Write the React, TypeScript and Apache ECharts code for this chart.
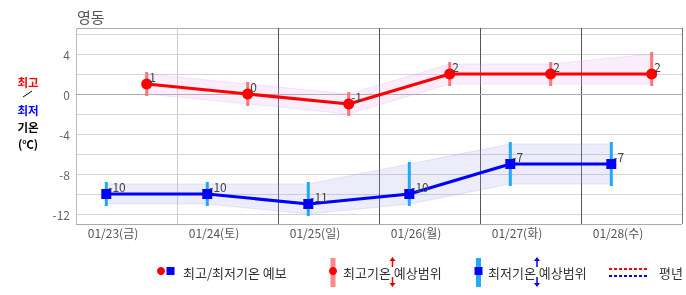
import React, { useEffect, useRef } from 'react';
import * as echarts from 'echarts';

const title = '영동';
const days = ['01/23(금)', '01/24(토)', '01/25(일)', '01/26(월)', '01/27(화)', '01/28(수)'];
const maxTemps = [1, 0, -1, 2, 2, 2];
const maxLow = [0, -1, -2, 1, 1, 1];
const maxHigh = [2, 1, 0, 3, 3, 4];
const minTemps = [-10, -10, -11, -10, -7, -7];
const minLow = [-11, -11, -12, -11, -9, -9];
const minHigh = [-9, -9, -9, -7, -5, -5];
// time of day (fraction of the day) at which min / max are plotted
const minTimeOfDay = 0.3;
const maxTimeOfDay = 0.7;
const yMin = -13;
const yMax = 6.6;
const yLabelTicks = [-12, -8, -4, 0, 4];

const FONT = "'Noto Sans CJK KR', 'Noto Sans', sans-serif";

const bandRender = (lows: number[], highs: number[], offset: number, fill: string, stroke: string) =>
  (params: any, api: any) => {
    if (params.dataIndex !== 0) return { type: 'group', children: [] };
    const top = highs.map((h, i) => api.coord([i + offset, h]));
    const bottom = lows.map((l, i) => api.coord([i + offset, l])).reverse();
    return {
      type: 'polygon',
      shape: { points: top.concat(bottom) },
      style: { fill, stroke, lineWidth: 1 },
    };
  };

const barRender = (color: string) => (params: any, api: any) => {
  const x = api.value(0);
  const p1 = api.coord([x, api.value(2)]);
  const p2 = api.coord([x, api.value(1)]);
  return {
    type: 'rect',
    shape: { x: p1[0] - 1.5, y: p1[1] - 2, width: 3, height: p2[1] - p1[1] + 4 },
    style: { fill: color },
  };
};

function arrow(x: number, yTip: number, dir: number, color: string) {
  // dir = -1 up, +1 down
  const shaftEnd = yTip - dir * 10;
  return [
    { type: 'line', shape: { x1: x, y1: shaftEnd, x2: x, y2: yTip - dir * 3 }, style: { stroke: color, lineWidth: 1.5 } },
    {
      type: 'polygon',
      shape: { points: [[x, yTip], [x - 3, yTip - dir * 4], [x + 3, yTip - dir * 4]] },
      style: { fill: color },
    },
  ];
}

function text(x: number, y: number, t: string, fill: string, font: string, align = 'left') {
  return { type: 'text', x, y, style: { text: t, fill, font, align, verticalAlign: 'middle' } };
}

export default function App() {
  const ref = useRef<HTMLDivElement>(null);
  useEffect(() => {
    const chart = echarts.init(ref.current!, null, { renderer: 'svg' });
    const ySplitColors = ['#aaa'];
    for (let i = 0; i < 10; i++) ySplitColors.push('#d4d4d4');
    ySplitColors.push('#aaa');
    const legendFont = `13px ${FONT}`;
    const sideFont = `bold 11.5px ${FONT}`;
    const option: any = {
      animation: false,
      textStyle: { fontFamily: FONT },
      grid: { left: 76, right: 4, top: 28, bottom: 71 },
      xAxis: {
        type: 'value',
        min: 0,
        max: days.length,
        interval: 1,
        axisLine: { show: true, lineStyle: { color: '#aaa' } },
        axisTick: { show: false },
        splitLine: {
          show: true,
          lineStyle: { color: ['#bbb', '#ccc', '#555', '#555', '#555', '#555', '#777'], width: 1 },
        },
        axisLabel: {
          formatter: (v: number) => days[Math.round(v)] ?? '',
          color: '#555',
          fontSize: 12,
          fontFamily: FONT,
          padding: [0, 0, 0, 74],
          margin: 2,
        },
      },
      yAxis: {
        type: 'value',
        min: yMin,
        max: yMax,
        splitNumber: 10,
        axisLine: { show: false },
        axisTick: { show: false },
        splitLine: { show: true, lineStyle: { color: ySplitColors } },
        axisLabel: {
          formatter: (v: number) => (yLabelTicks.some((t) => Math.abs(t - v) < 1e-6) ? String(Math.round(v)) : ''),
          color: '#666',
          fontSize: 12,
          fontFamily: FONT,
          margin: 6,
        },
      },
      series: [
        {
          type: 'custom',
          renderItem: bandRender(maxLow, maxHigh, maxTimeOfDay, 'rgba(232,170,240,0.2)', 'rgba(220,160,235,0.25)'),
          data: days.map((_, i) => [i + maxTimeOfDay, maxLow[i], maxHigh[i]]),
          encode: { x: 0, y: [1, 2] },
          z: 1,
          silent: true,
        },
        {
          type: 'custom',
          renderItem: bandRender(minLow, minHigh, minTimeOfDay, 'rgba(160,160,235,0.2)', 'rgba(160,160,235,0.25)'),
          data: days.map((_, i) => [i + minTimeOfDay, minLow[i], minHigh[i]]),
          encode: { x: 0, y: [1, 2] },
          z: 1,
          silent: true,
        },
        {
          type: 'custom',
          renderItem: barRender('#f87878'),
          data: days.map((_, i) => [i + maxTimeOfDay, maxLow[i], maxHigh[i]]),
          encode: { x: 0, y: [1, 2] },
          z: 2,
        },
        {
          type: 'custom',
          renderItem: barRender('#1eaaf5'),
          data: days.map((_, i) => [i + minTimeOfDay, minLow[i], minHigh[i]]),
          encode: { x: 0, y: [1, 2] },
          z: 2,
        },
        {
          type: 'line',
          data: days.map((_, i) => [i + maxTimeOfDay, maxTemps[i]]),
          symbol: 'circle',
          symbolSize: 11,
          lineStyle: { color: '#ff0000', width: 3 },
          itemStyle: { color: '#ff0000' },
          label: {
            show: true,
            position: 'right',
            distance: 0,
            offset: [-3, -8],
            color: '#444',
            fontSize: 12,
            fontFamily: FONT,
            formatter: (p: any) => String(p.value[1]),
          },
          z: 3,
        },
        {
          type: 'line',
          data: days.map((_, i) => [i + minTimeOfDay, minTemps[i]]),
          symbol: 'rect',
          symbolSize: 10,
          lineStyle: { color: '#0000ff', width: 3 },
          itemStyle: { color: '#0000ff' },
          label: {
            show: true,
            position: 'right',
            distance: 0,
            offset: [-3, -8],
            color: '#444',
            fontSize: 12,
            fontFamily: FONT,
            formatter: (p: any) => String(p.value[1]),
          },
          z: 3,
        },
      ],
      graphic: [
        text(77, 16, title, '#555', `15px ${FONT}`),
        text(28, 82, '최고', '#ff0000', sideFont, 'center'),
        { type: 'line', shape: { x1: 23, y1: 97, x2: 32, y2: 91 }, style: { stroke: '#000', lineWidth: 1 } },
        text(28, 109.5, '최저', '#0000ff', sideFont, 'center'),
        text(28, 126.5, '기온', '#000', sideFont, 'center'),
        text(28, 143.5, '(℃)', '#000', sideFont, 'center'),
        // legend 1
        { type: 'circle', shape: { cx: 161, cy: 271, r: 4 }, style: { fill: '#ff0000' } },
        { type: 'rect', shape: { x: 166.5, y: 267, width: 8, height: 8 }, style: { fill: '#0000ff' } },
        text(183, 272, '최고/최저기온 예보', '#333', legendFont),
        // legend 2
        { type: 'rect', shape: { x: 330.5, y: 258, width: 5, height: 29 }, style: { fill: '#f88' } },
        { type: 'circle', shape: { cx: 333, cy: 271, r: 4 }, style: { fill: '#ff0000' } },
        text(343, 272, '최고기온 예상범위', '#333', legendFont),
        ...arrow(392.5, 257, -1, '#ee0000'),
        ...arrow(392.5, 287, 1, '#ee0000'),
        // legend 3
        { type: 'rect', shape: { x: 476, y: 258, width: 5, height: 29 }, style: { fill: '#22aaff' } },
        { type: 'rect', shape: { x: 474.5, y: 267, width: 8, height: 8 }, style: { fill: '#0000ff' } },
        text(488, 272, '최저기온 예상범위', '#333', legendFont),
        ...arrow(537, 257, -1, '#0000ee'),
        ...arrow(537, 287, 1, '#0000ee'),
        // legend 4
        { type: 'line', shape: { x1: 609, y1: 269, x2: 648, y2: 269 }, style: { stroke: '#ff0000', lineWidth: 2, lineDash: [3, 2] } },
        { type: 'line', shape: { x1: 609, y1: 276, x2: 648, y2: 276 }, style: { stroke: '#0000ff', lineWidth: 2, lineDash: [3, 2] } },
        text(659, 272, '평년', '#333', legendFont),
      ],
    };
    chart.setOption(option);
    return () => chart.dispose();
  }, []);
  return <div ref={ref} style={{ position: 'fixed', left: 0, top: 0, width: 686, height: 295 }} />;
}
